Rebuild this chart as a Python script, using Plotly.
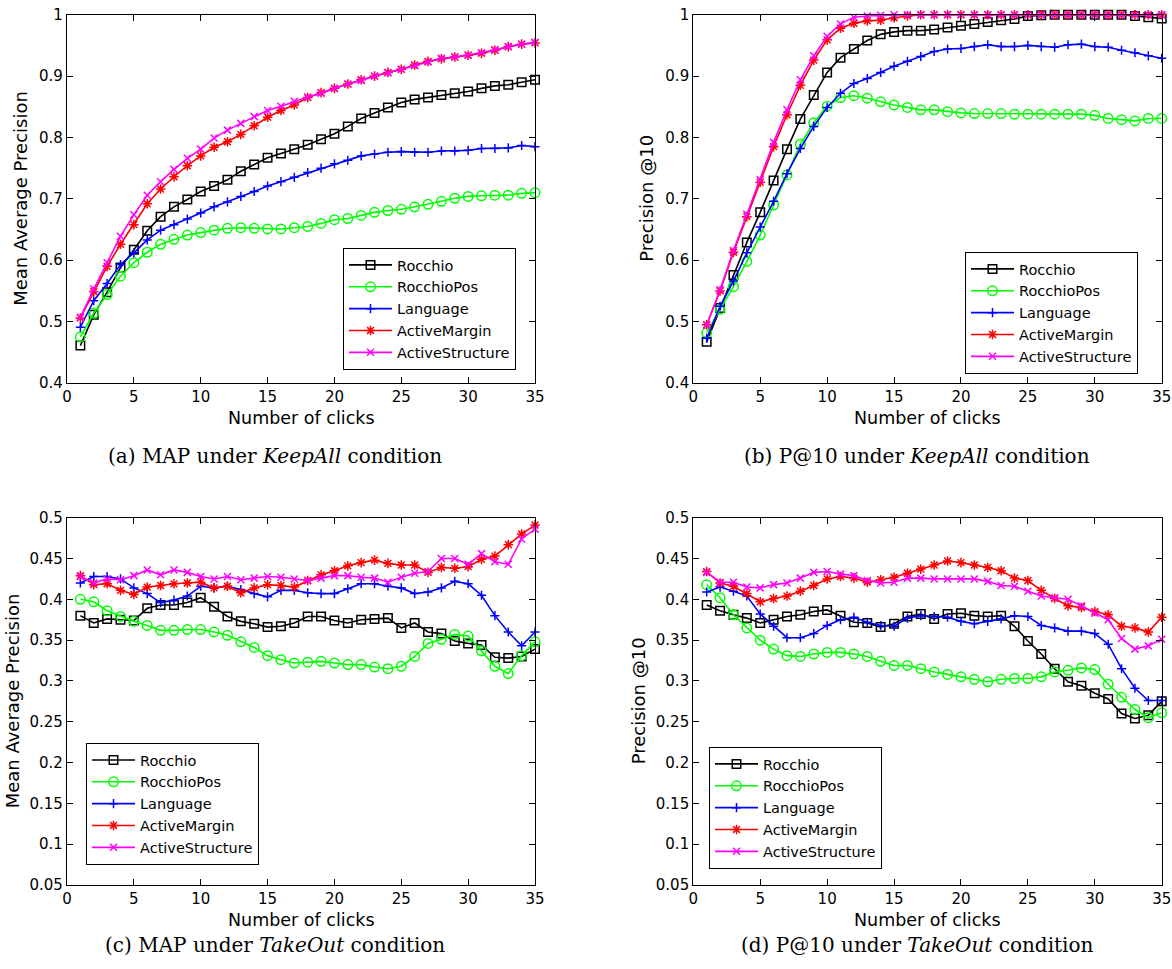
import plotly.graph_objects as go

# Number of relevance-feedback clicks (x axis of every panel)
clicks = list(range(1, 36))

series_names = ["Rocchio", "RocchioPos", "Language", "ActiveMargin", "ActiveStructure"]

# (a) MAP under KeepAll
map_keep_rocchio = [0.461, 0.511, 0.548, 0.588, 0.617, 0.648, 0.671, 0.687, 0.699, 0.712,
                    0.721, 0.731, 0.745, 0.756, 0.767, 0.774, 0.781, 0.788, 0.797, 0.806,
                    0.818, 0.831, 0.840, 0.849, 0.857, 0.862, 0.865, 0.869, 0.872, 0.875,
                    0.880, 0.884, 0.886, 0.890, 0.894]
map_keep_rocchiopos = [0.475, 0.514, 0.544, 0.574, 0.596, 0.613, 0.626, 0.634, 0.641, 0.645,
                       0.649, 0.652, 0.653, 0.652, 0.651, 0.651, 0.653, 0.655, 0.660, 0.666,
                       0.668, 0.673, 0.678, 0.681, 0.683, 0.687, 0.691, 0.696, 0.701, 0.704,
                       0.705, 0.706, 0.706, 0.709, 0.710]
map_keep_language = [0.491, 0.534, 0.562, 0.593, 0.612, 0.633, 0.649, 0.658, 0.667, 0.677,
                     0.687, 0.695, 0.704, 0.712, 0.721, 0.728, 0.735, 0.743, 0.750, 0.757,
                     0.763, 0.770, 0.773, 0.776, 0.777, 0.776, 0.776, 0.778, 0.778, 0.779,
                     0.782, 0.782, 0.783, 0.787, 0.785]
map_keep_activemargin = [0.506, 0.549, 0.590, 0.626, 0.658, 0.692, 0.716, 0.736, 0.754, 0.770,
                         0.784, 0.793, 0.805, 0.819, 0.833, 0.844, 0.853, 0.865, 0.873, 0.880,
                         0.887, 0.894, 0.900, 0.906, 0.911, 0.918, 0.924, 0.928, 0.931, 0.934,
                         0.937, 0.942, 0.948, 0.952, 0.954]
map_keep_activestructure = [0.507, 0.553, 0.596, 0.639, 0.674, 0.706, 0.728, 0.748, 0.766, 0.781,
                            0.799, 0.812, 0.823, 0.834, 0.844, 0.851, 0.859, 0.866, 0.872, 0.880,
                            0.887, 0.893, 0.900, 0.905, 0.911, 0.917, 0.923, 0.929, 0.931, 0.934,
                            0.938, 0.943, 0.948, 0.952, 0.955]

# (b) P@10 under KeepAll
p10_keep_rocchio = [0.467, 0.522, 0.576, 0.629, 0.678, 0.730, 0.781, 0.830, 0.869, 0.906,
                    0.930, 0.944, 0.958, 0.968, 0.972, 0.974, 0.974, 0.976, 0.979, 0.982,
                    0.985, 0.988, 0.991, 0.993, 0.998, 0.999, 1.000, 1.000, 1.000, 1.000,
                    1.000, 1.000, 0.998, 0.996, 0.994]
p10_keep_rocchiopos = [0.482, 0.520, 0.557, 0.598, 0.641, 0.690, 0.739, 0.789, 0.824, 0.851,
                       0.865, 0.868, 0.864, 0.858, 0.853, 0.849, 0.845, 0.845, 0.842, 0.840,
                       0.839, 0.839, 0.839, 0.838, 0.838, 0.838, 0.838, 0.838, 0.838, 0.836,
                       0.831, 0.829, 0.827, 0.831, 0.831]
p10_keep_language = [0.473, 0.525, 0.566, 0.612, 0.654, 0.696, 0.741, 0.782, 0.818, 0.849,
                     0.872, 0.888, 0.896, 0.906, 0.916, 0.924, 0.932, 0.940, 0.944, 0.945,
                     0.948, 0.951, 0.948, 0.948, 0.950, 0.948, 0.947, 0.951, 0.952, 0.948,
                     0.947, 0.942, 0.938, 0.933, 0.929]
p10_keep_activemargin = [0.495, 0.550, 0.613, 0.671, 0.727, 0.785, 0.837, 0.885, 0.926, 0.959,
                         0.978, 0.986, 0.990, 0.991, 0.995, 0.998, 1.000, 1.000, 1.000, 1.000,
                         1.000, 1.000, 1.000, 1.000, 1.000, 1.000, 1.000, 1.000, 1.000, 1.000,
                         1.000, 1.000, 1.000, 1.000, 1.000]
p10_keep_activestructure = [0.494, 0.552, 0.616, 0.675, 0.731, 0.792, 0.845, 0.894, 0.933, 0.965,
                            0.985, 0.996, 0.998, 0.999, 1.000, 1.000, 1.000, 1.000, 1.000, 1.000,
                            1.000, 1.000, 1.000, 1.000, 1.000, 1.000, 1.000, 1.000, 1.000, 1.000,
                            1.000, 1.000, 1.000, 1.000, 1.000]

# (c) MAP under TakeOut
map_take_rocchio = [0.380, 0.371, 0.376, 0.375, 0.374, 0.389, 0.393, 0.393, 0.396, 0.402,
                    0.391, 0.379, 0.373, 0.370, 0.366, 0.367, 0.371, 0.379, 0.379, 0.374,
                    0.371, 0.375, 0.376, 0.377, 0.365, 0.371, 0.360, 0.358, 0.349, 0.346,
                    0.344, 0.329, 0.328, 0.330, 0.339]
map_take_rocchiopos = [0.400, 0.397, 0.386, 0.379, 0.373, 0.368, 0.362, 0.362, 0.363, 0.363,
                       0.360, 0.356, 0.348, 0.341, 0.331, 0.326, 0.322, 0.323, 0.324, 0.322,
                       0.320, 0.320, 0.317, 0.315, 0.318, 0.330, 0.346, 0.351, 0.357, 0.355,
                       0.337, 0.318, 0.309, 0.331, 0.348]
map_take_language = [0.420, 0.428, 0.428, 0.425, 0.414, 0.407, 0.396, 0.399, 0.404, 0.416,
                     0.414, 0.416, 0.412, 0.407, 0.403, 0.411, 0.411, 0.408, 0.407, 0.407,
                     0.413, 0.419, 0.419, 0.416, 0.414, 0.407, 0.409, 0.414, 0.422, 0.419,
                     0.405, 0.380, 0.360, 0.343, 0.360]
map_take_activemargin = [0.429, 0.418, 0.419, 0.411, 0.406, 0.415, 0.417, 0.419, 0.420, 0.421,
                         0.414, 0.416, 0.408, 0.414, 0.418, 0.417, 0.415, 0.423, 0.430, 0.435,
                         0.441, 0.445, 0.448, 0.444, 0.442, 0.442, 0.433, 0.439, 0.438, 0.440,
                         0.449, 0.453, 0.467, 0.480, 0.491]
map_take_activestructure = [0.428, 0.420, 0.425, 0.424, 0.429, 0.436, 0.430, 0.436, 0.433, 0.428,
                            0.425, 0.428, 0.424, 0.426, 0.428, 0.427, 0.425, 0.423, 0.426, 0.429,
                            0.429, 0.427, 0.426, 0.421, 0.427, 0.432, 0.434, 0.450, 0.450, 0.443,
                            0.456, 0.446, 0.443, 0.474, 0.486]

# (d) P@10 under TakeOut
p10_take_rocchio = [0.393, 0.386, 0.381, 0.377, 0.371, 0.375, 0.379, 0.381, 0.385, 0.387,
                    0.380, 0.372, 0.371, 0.366, 0.370, 0.379, 0.382, 0.376, 0.382, 0.383,
                    0.380, 0.379, 0.380, 0.367, 0.349, 0.333, 0.315, 0.299, 0.294, 0.285,
                    0.278, 0.260, 0.254, 0.258, 0.275]
p10_take_rocchiopos = [0.418, 0.402, 0.381, 0.365, 0.350, 0.339, 0.331, 0.330, 0.333, 0.335,
                       0.335, 0.333, 0.330, 0.324, 0.319, 0.319, 0.315, 0.311, 0.308, 0.305,
                       0.302, 0.299, 0.302, 0.303, 0.303, 0.305, 0.311, 0.313, 0.316, 0.314,
                       0.296, 0.280, 0.265, 0.255, 0.261]
p10_take_language = [0.409, 0.415, 0.410, 0.404, 0.382, 0.367, 0.353, 0.353, 0.358, 0.368,
                     0.375, 0.378, 0.372, 0.368, 0.367, 0.377, 0.380, 0.379, 0.378, 0.373,
                     0.370, 0.373, 0.376, 0.380, 0.379, 0.368, 0.365, 0.361, 0.361, 0.358,
                     0.345, 0.315, 0.291, 0.276, 0.276]
p10_take_activemargin = [0.434, 0.420, 0.416, 0.407, 0.397, 0.401, 0.404, 0.410, 0.417, 0.425,
                         0.428, 0.426, 0.421, 0.424, 0.427, 0.432, 0.437, 0.442, 0.447, 0.445,
                         0.442, 0.439, 0.435, 0.426, 0.423, 0.411, 0.401, 0.392, 0.390, 0.385,
                         0.381, 0.367, 0.365, 0.360, 0.378]
p10_take_activestructure = [0.433, 0.421, 0.421, 0.415, 0.414, 0.418, 0.420, 0.426, 0.433, 0.434,
                            0.431, 0.429, 0.423, 0.420, 0.421, 0.426, 0.426, 0.425, 0.425, 0.425,
                            0.425, 0.422, 0.417, 0.416, 0.410, 0.404, 0.402, 0.400, 0.392, 0.383,
                            0.375, 0.352, 0.339, 0.343, 0.351]

# Tick labels
x_ticks = [0, 5, 10, 15, 20, 25, 30, 35]
top_y_ticks = [0.4, 0.5, 0.6, 0.7, 0.8, 0.9, 1.0]
top_y_labels = ["0.4", "0.5", "0.6", "0.7", "0.8", "0.9", "1"]
bottom_y_ticks = [0.05, 0.1, 0.15, 0.2, 0.25, 0.3, 0.35, 0.4, 0.45, 0.5]
bottom_y_labels = ["0.05", "0.1", "0.15", "0.2", "0.25", "0.3", "0.35", "0.4", "0.45", "0.5"]

# MATLAB-like line styles for each method
colors = ["#000000", "#00ff00", "#0000ff", "#ff0000", "#ff00ff"]
symbols = ["square-open", "circle-open", "cross-thin-open", "asterisk-open", "x-thin-open"]
msizes = [8.5, 9.5, 6.5, 8, 7]

W, H = 1172, 969
SANS = "DejaVu Sans"
SERIF = "DejaVu Serif"

panels = [
    dict(series=[map_keep_rocchio, map_keep_rocchiopos, map_keep_language,
                 map_keep_activemargin, map_keep_activestructure],
         px_x=(67, 535), px_y=(14.7, 383), yr=[0.4, 1.0], yt=top_y_ticks, yl=top_y_labels,
         ytitle="Mean Average Precision", ytitle_x=21, legend_px=(343, 248),
         caption="(a) MAP under <i>KeepAll</i> condition", cap_xy=(275, 456)),
    dict(series=[p10_keep_rocchio, p10_keep_rocchiopos, p10_keep_language,
                 p10_keep_activemargin, p10_keep_activestructure],
         px_x=(693.3, 1161.7), px_y=(14.7, 383), yr=[0.4, 1.0], yt=top_y_ticks, yl=top_y_labels,
         ytitle="Precision @10", ytitle_x=647, legend_px=(965, 252),
         caption="(b) P@10 under <i>KeepAll</i> condition", cap_xy=(917, 456)),
    dict(series=[map_take_rocchio, map_take_rocchiopos, map_take_language,
                 map_take_activemargin, map_take_activestructure],
         px_x=(67, 535), px_y=(517.7, 885), yr=[0.05, 0.5], yt=bottom_y_ticks, yl=bottom_y_labels,
         ytitle="Mean Average Precision", ytitle_x=12, legend_px=(86, 743),
         caption="(c) MAP under <i>TakeOut</i> condition", cap_xy=(275, 945)),
    dict(series=[p10_take_rocchio, p10_take_rocchiopos, p10_take_language,
                 p10_take_activemargin, p10_take_activestructure],
         px_x=(693.3, 1161.7), px_y=(517.7, 885), yr=[0.05, 0.5], yt=bottom_y_ticks, yl=bottom_y_labels,
         ytitle="Precision @10", ytitle_x=638, legend_px=(709, 747),
         caption="(d) P@10 under <i>TakeOut</i> condition", cap_xy=(917, 945)),
]

fig = go.Figure()
layout = dict(template="none", width=W, height=H, margin=dict(l=0, r=0, t=0, b=0, pad=0),
              paper_bgcolor="white", plot_bgcolor="white", annotations=[],
              font=dict(family=SANS, color="black"))

for i, p in enumerate(panels):
    n = "" if i == 0 else str(i + 1)
    legend_id = "legend" + n
    for name, ys, c, s, ms in zip(series_names, p["series"], colors, symbols, msizes):
        fig.add_trace(go.Scatter(
            x=clicks, y=ys, name=name, mode="lines+markers",
            xaxis="x" + n, yaxis="y" + n, legend=legend_id, cliponaxis=False,
            line=dict(color=c, width=1.6),
            marker=dict(symbol=s, size=ms, color=c, line=dict(color=c, width=1.5)),
        ))

    x0, x1 = p["px_x"]
    y0, y1 = p["px_y"]
    axis_common = dict(showline=True, linecolor="black", linewidth=1.2, mirror="ticks",
                       ticks="inside", ticklen=6, tickwidth=1, tickcolor="black",
                       showgrid=False, zeroline=False, automargin=False,
                       tickfont=dict(family=SANS, size=15, color="black"))
    layout["xaxis" + n] = dict(axis_common, domain=[x0 / W, x1 / W], range=[0, 35],
                               tickvals=x_ticks, anchor="y" + n)
    layout["yaxis" + n] = dict(axis_common, domain=[1 - y1 / H, 1 - y0 / H], range=p["yr"],
                               tickvals=p["yt"], ticktext=p["yl"], anchor="x" + n)

    lx, ly = p["legend_px"]
    layout[legend_id] = dict(x=lx / W, y=1 - ly / H, xanchor="left", yanchor="top",
                             bgcolor="white", bordercolor="black", borderwidth=1,
                             font=dict(family=SANS, size=14.5, color="black"),
                             itemwidth=43, tracegroupgap=0)

    # axis titles
    layout["annotations"].append(dict(
        x=(x0 + x1) / 2 / W, y=1 - (y1 + 35) / H, xref="paper", yref="paper",
        text="Number of clicks", showarrow=False, xanchor="center", yanchor="middle",
        font=dict(family=SANS, size=17.5, color="black")))
    layout["annotations"].append(dict(
        x=p["ytitle_x"] / W, y=1 - (y0 + y1) / 2 / H, xref="paper", yref="paper",
        text=p["ytitle"], textangle=-90, showarrow=False, xanchor="center", yanchor="middle",
        font=dict(family=SANS, size=18, color="black")))
    # sub-figure caption
    cx, cy = p["cap_xy"]
    layout["annotations"].append(dict(
        x=cx / W, y=1 - cy / H, xref="paper", yref="paper",
        text=p["caption"], showarrow=False, xanchor="center", yanchor="middle",
        font=dict(family=SERIF, size=20, color="black")))

fig.update_layout(**layout)
fig.write_html("out.html")
